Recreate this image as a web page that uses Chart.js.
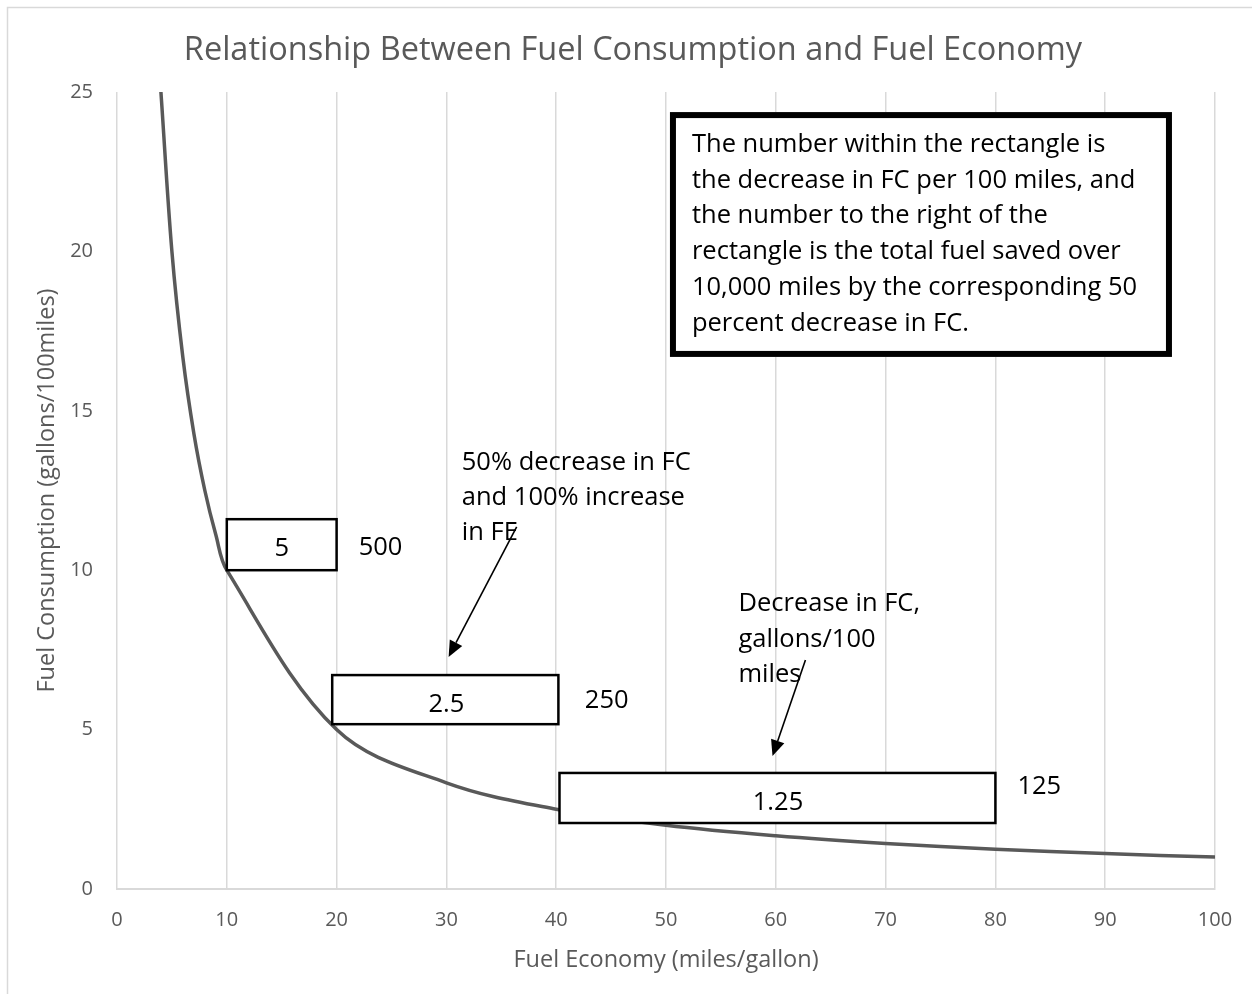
<!DOCTYPE html>
<html>
<head>
<meta charset="utf-8">
<script src="https://cdn.jsdelivr.net/npm/chart.js@4/dist/chart.umd.min.js"></script>
<style>
  html, body { margin: 0; padding: 0; background: #ffffff; }
  #wrap { width: 1252px; height: 994px; position: relative; }
</style>
</head>
<body>
<div id="wrap"><canvas id="chart" width="1252" height="994"></canvas></div>
<script>
// Fuel consumption (gallons per 100 miles) against fuel economy (miles per gallon)
const fuelEconomy = [4, 5, 6, 7, 8, 9, 10, 20, 30, 40, 50, 60, 70, 80, 90, 100];
const fuelConsumption = [25, 20, 16.67, 14.29, 12.5, 11.11, 10, 5, 3.33, 2.5, 2, 1.67, 1.43, 1.25, 1.11, 1];

const xTicks = [0, 10, 20, 30, 40, 50, 60, 70, 80, 90, 100];
const yTicks = [0, 5, 10, 15, 20, 25];

// Rectangles marking each 50 percent drop in FC (data units)
const boxFrom = [10, 19.6, 40.3];
const boxTo = [20, 40.2, 80];
const boxLow = [10, 5.17, 2.07];
const boxHigh = [11.6, 6.71, 3.64];
const boxDecrease = ['5', '2.5', '1.25'];
const decreaseAt = [[15, 10.68], [30, 5.78], [60.2, 2.71]];
const fuelSaved = ['500', '250', '125'];
const savedAt = [[24, 10.72], [44.6, 5.92], [84, 3.2]];

// Call-out notes with their arrows
const noteOne = ['50% decrease in FC', 'and 100% increase', 'in FE'];
const noteOneAt = [31.4, 13.36];
const arrowOne = [[36.4, 11.36], [30.2, 7.28]];
const noteTwo = ['Decrease in FC,', 'gallons/100', 'miles'];
const noteTwoAt = [56.6, 8.94];
const arrowTwo = [[62.7, 7.18], [59.7, 4.17]];

const legendLines = [
  'The number within the rectangle is',
  'the decrease in FC per 100 miles, and',
  'the number to the right of the',
  'rectangle is the total fuel saved over',
  '10,000 miles by the corresponding 50',
  'percent decrease in FC.'
];
const legendFrame = [50.36, 96.08, 16.69, 24.37];

const FONT = '"Open Sans", "Noto Sans", sans-serif';
const AXIS_GREY = '#595959';
const GRID_GREY = '#d9d9d9';

const frame = {
  id: 'frame',
  beforeDraw(chart) {
    const c = chart.ctx;
    c.save();
    c.fillStyle = '#ffffff';
    c.fillRect(0, 0, chart.width, chart.height);
    c.strokeStyle = GRID_GREY;
    c.lineWidth = 1.5;
    c.strokeRect(7.5, 7.5, chart.width + 10, chart.height + 10);
    c.restore();
  }
};

function arrow(c, x1, y1, x2, y2) {
  const ang = Math.atan2(y2 - y1, x2 - x1);
  const head = 16, half = 7;
  const bx = x2 - head * Math.cos(ang), by = y2 - head * Math.sin(ang);
  c.beginPath();
  c.moveTo(x1, y1);
  c.lineTo(bx, by);
  c.lineWidth = 1.6;
  c.strokeStyle = '#000';
  c.stroke();
  c.beginPath();
  c.moveTo(x2, y2);
  c.lineTo(bx + half * Math.sin(ang), by - half * Math.cos(ang));
  c.lineTo(bx - half * Math.sin(ang), by + half * Math.cos(ang));
  c.closePath();
  c.fillStyle = '#000';
  c.fill();
}

const notes = {
  id: 'notes',
  afterDatasetsDraw(chart) {
    const c = chart.ctx;
    const xs = chart.scales.x, ys = chart.scales.y;
    const px = v => xs.getPixelForValue(v);
    const py = v => ys.getPixelForValue(v);
    c.save();

    // rectangles with the FC decrease inside and fuel saved to the right
    for (let i = 0; i < boxFrom.length; i++) {
      const x0 = px(boxFrom[i]), x1 = px(boxTo[i]);
      const y0 = py(boxHigh[i]), y1 = py(boxLow[i]);
      c.fillStyle = '#ffffff';
      c.fillRect(x0, y0, x1 - x0, y1 - y0);
      c.strokeStyle = '#000';
      c.lineWidth = 2.5;
      c.strokeRect(x0, y0, x1 - x0, y1 - y0);
      c.fillStyle = '#000';
      c.font = '25.5px ' + FONT;
      c.textAlign = 'center';
      c.textBaseline = 'middle';
      c.fillText(boxDecrease[i], px(decreaseAt[i][0]), py(decreaseAt[i][1]));
      c.fillText(fuelSaved[i], px(savedAt[i][0]), py(savedAt[i][1]));
    }

    // call-out notes
    c.textAlign = 'left';
    c.textBaseline = 'middle';
    c.font = '25.5px ' + FONT;
    noteOne.forEach((t, k) => c.fillText(t, px(noteOneAt[0]), py(noteOneAt[1]) + k * 35));
    noteTwo.forEach((t, k) => c.fillText(t, px(noteTwoAt[0]), py(noteTwoAt[1]) + k * 35.5));
    arrow(c, px(arrowOne[0][0]), py(arrowOne[0][1]), px(arrowOne[1][0]), py(arrowOne[1][1]));
    arrow(c, px(arrowTwo[0][0]), py(arrowTwo[0][1]), px(arrowTwo[1][0]), py(arrowTwo[1][1]));

    // explanation box
    const lx0 = px(legendFrame[0]), lx1 = px(legendFrame[1]);
    const ly0 = py(legendFrame[3]), ly1 = py(legendFrame[2]);
    c.fillStyle = '#ffffff';
    c.fillRect(lx0, ly0, lx1 - lx0, ly1 - ly0);
    c.strokeStyle = '#000';
    c.lineWidth = 6;
    c.strokeRect(lx0 + 3, ly0 + 3, lx1 - lx0 - 6, ly1 - ly0 - 6);
    c.fillStyle = '#000';
    c.font = '25.5px ' + FONT;
    legendLines.forEach((t, k) => c.fillText(t, lx0 + 22, ly0 + 32.5 + k * 35.8));
    c.restore();
  }
};

new Chart(document.getElementById('chart'), {
  type: 'line',
  data: {
    datasets: [{
      data: fuelEconomy.map((x, i) => ({ x, y: fuelConsumption[i] })),
      borderColor: '#595959',
      borderWidth: 3.5,
      pointRadius: 0,
      tension: 0.35,
      fill: false
    }]
  },
  options: {
    responsive: false,
    animation: false,
    events: [],
    layout: { padding: { left: 14, right: 0, top: 0, bottom: 0 } },
    plugins: {
      legend: { display: false },
      tooltip: { enabled: false },
      title: {
        display: true,
        text: 'Relationship Between Fuel Consumption and Fuel Economy',
        color: AXIS_GREY,
        font: { family: FONT, size: 32.5, weight: 'normal' },
        padding: { top: 31, bottom: 22 }
      }
    },
    scales: {
      x: {
        type: 'linear',
        min: 0,
        max: 100,
        afterBuildTicks: s => { s.ticks = xTicks.map(v => ({ value: v })); },
        afterFit: s => { s.height = 105; },
        ticks: { color: AXIS_GREY, font: { family: FONT, size: 20 }, padding: 19 },
        grid: { color: GRID_GREY, lineWidth: 1.5, drawTicks: false },
        border: { display: true, color: GRID_GREY, width: 2 },
        title: {
          display: true,
          text: 'Fuel Economy (miles/gallon)',
          color: AXIS_GREY,
          font: { family: FONT, size: 23.5 },
          padding: { top: 0, bottom: 20 }
        }
      },
      y: {
        type: 'linear',
        min: 0,
        max: 25,
        afterBuildTicks: s => { s.ticks = yTicks.map(v => ({ value: v })); },
        afterFit: s => { s.width = 103; },
        ticks: { color: AXIS_GREY, font: { family: FONT, size: 20 }, padding: 24 },
        grid: { drawOnChartArea: false, drawTicks: false },
        border: { display: false },
        title: {
          display: true,
          text: 'Fuel Consumption (gallons/100miles)',
          color: AXIS_GREY,
          font: { family: FONT, size: 23.5 },
          padding: { top: 19, bottom: 0 }
        }
      },
      // empty right-hand margin so the plot ends at 100 mpg
      margin: {
        type: 'linear',
        position: 'right',
        afterFit: s => { s.width = 37; },
        ticks: { display: false },
        grid: { display: false },
        border: { display: false }
      }
    }
  },
  plugins: [frame, notes]
});
</script>
</body>
</html>
